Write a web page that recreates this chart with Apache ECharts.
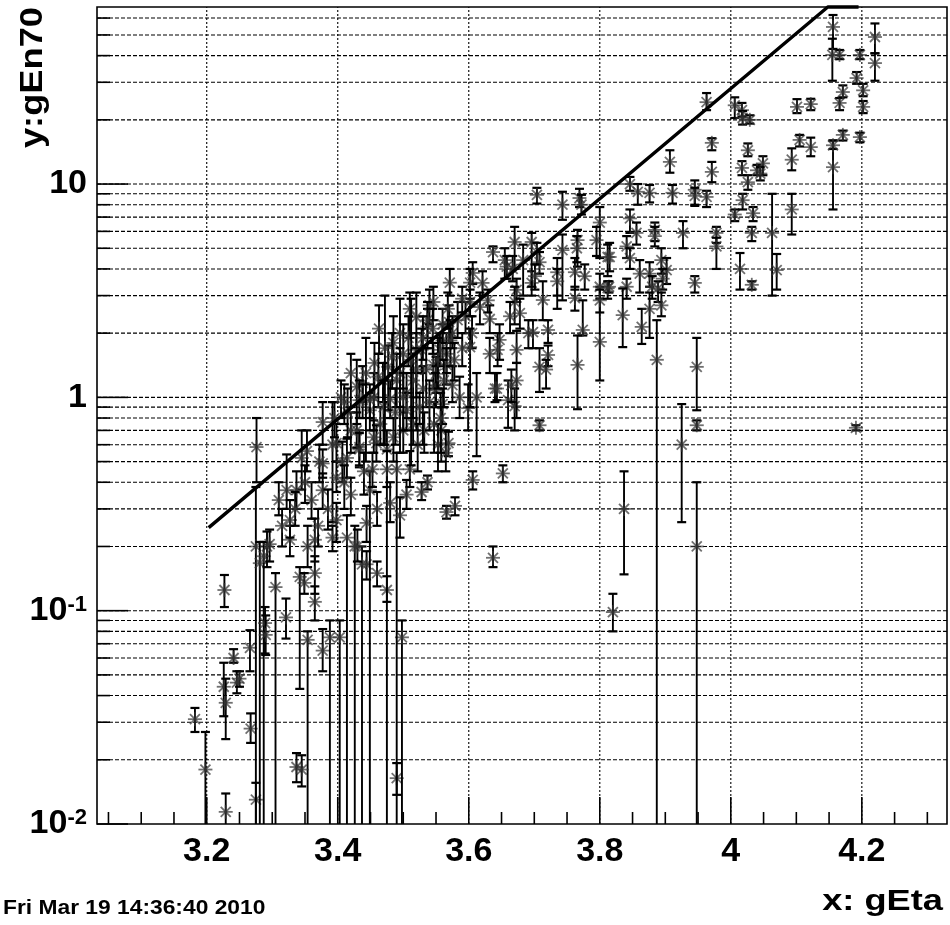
<!DOCTYPE html>
<html><head><meta charset="utf-8">
<script src="https://cdn.jsdelivr.net/npm/echarts@6/dist/echarts.min.js"></script>
<style>html,body{margin:0;padding:0;background:#fff}#c{width:950px;height:925px}</style>
</head><body><div id="c"></div>
<script>
const X_MIN = 3.0325, X_MAX = 4.33, Y_MIN = 0.01, Y_MAX = 67.6;
const xTickLabels = [3.2, 3.4, 3.6, 3.8, 4, 4.2];
const xMinorTicks = [3.05,3.1,3.15,3.25,3.3,3.35,3.45,3.5,3.55,3.65,3.7,3.75,3.85,3.9,3.95,4.05,4.1,4.15,4.25,4.3];
const yMajorTicks = [0.01, 0.1, 1, 10];
const yMinorTicks = [0.02,0.03,0.04,0.05,0.06,0.07,0.08,0.09,0.2,0.3,0.4,0.5,0.6,0.7,0.8,0.9,2,3,4,5,6,7,8,9,20,30,40,50,60];
const cutLine = [[3.203, 0.245], [4.148, 67.6], [4.195, 67.6]];

// points: [gEta, gEn70, lower error end, upper error end]
const lowLeft = [
[3.182,0.031,0.027,0.035],[3.198,0.018,0.01,0.027],[3.227,0.125,0.104,0.147],[3.241,0.06,0.057,0.066],
[3.246,0.046,0.041,0.052],[3.25,0.048,0.044,0.052],[3.226,0.044,0.032,0.057],[3.229,0.037,0.025,0.048],
[3.229,0.0114,0.01,0.0139],[3.266,0.067,0.052,0.081],[3.267,0.028,0.024,0.033],[3.275,0.013,0.01,0.0156],
[3.276,0.585,0.4,0.8],[3.275,0.2,0.01,0.38],[3.281,0.167,0.01,0.21],[3.292,0.2,0.16,0.235],
[3.287,0.18,0.01,0.21],[3.296,0.205,0.17,0.24],[3.289,0.0875,0.063,0.104],[3.29,0.077,0.062,0.095],
[3.305,0.129,0.01,0.15],[3.321,0.093,0.074,0.114]
];
const lowMid = [
[3.342,0.144,0.043,0.16],[3.349,0.135,0.12,0.15],[3.354,0.073,0.01,0.08],[3.337,0.0185,0.0157,0.0215],
[3.345,0.018,0.015,0.021],[3.365,0.15,0.12,0.18],[3.365,0.11,0.09,0.13],[3.377,0.065,0.052,0.082],
[3.388,0.075,0.01,0.09],[3.403,0.075,0.01,0.09],[3.49,0.0164,0.0137,0.0193],[3.498,0.075,0.01,0.09],
[3.414,0.22,0.01,0.28],[3.426,0.2,0.01,0.25],[3.437,0.165,0.01,0.2],[3.43,0.2,0.17,0.24],
[3.444,0.165,0.14,0.19],[3.46,0.15,0.13,0.17],[3.475,0.125,0.11,0.145],[3.392,0.22,0.19,0.25],
[3.354,0.2,0.16,0.25],[3.365,0.215,0.17,0.27],[3.327,0.215,0.18,0.25]
];
const band = [
[3.322,0.367,0.3,0.54],[3.327,0.266,0.22,0.33],[3.345,0.52,0.37,0.7],[3.337,0.367,0.3,0.45],
[3.377,0.49,0.42,0.57],[3.377,0.367,0.3,0.44],[3.392,0.6,0.26,0.95],[3.398,0.42,0.36,0.5],
[3.398,0.266,0.21,0.32],[3.414,0.52,0.42,0.64],[3.433,0.585,0.48,0.7],[3.449,0.367,0.01,0.45],
[3.444,0.258,0.21,0.31],[3.459,0.61,0.5,0.74],[3.377,0.766,0.6,0.95],[3.398,0.61,0.5,0.75],
[3.407,0.5,0.4,0.62],[3.372,0.5,0.4,0.6],[3.353,0.56,0.45,0.7],[3.475,0.57,0.01,0.7],
[3.455,0.65,0.55,0.78],[3.429,0.7,0.58,0.85],[3.433,0.57,0.47,0.68],[3.453,0.46,0.38,0.55],
[3.475,0.46,0.38,0.56],[3.49,0.46,0.01,0.55],[3.51,0.46,0.38,0.56],[3.537,0.4,0.37,0.43],
[3.528,0.36,0.33,0.4],[3.566,0.29,0.27,0.31],[3.579,0.31,0.28,0.34],[3.606,0.41,0.37,0.45],
[3.652,0.44,0.4,0.48],[3.637,0.177,0.16,0.2],[3.569,0.61,0.53,0.69],[3.708,0.74,0.7,0.78],
[3.558,0.7,0.5,0.9],[3.565,0.55,0.45,0.7],[3.553,0.6,0.45,0.75],[3.547,0.75,0.55,0.95],
[3.532,0.7,0.55,0.85],[3.522,0.6,0.45,0.75],[3.515,0.75,0.6,0.9],[3.5,0.7,0.55,0.85],
[3.485,0.65,0.5,0.8],[3.465,0.75,0.6,0.9],[3.44,0.45,0.35,0.55],[3.42,0.35,0.28,0.42],
[3.41,0.4,0.3,0.48],[3.385,0.3,0.24,0.37],[3.37,0.25,0.2,0.3],[3.36,0.33,0.27,0.4],
[3.35,0.4,0.32,0.48],[3.335,0.3,0.25,0.36],[3.315,0.25,0.2,0.3],[3.31,0.33,0.28,0.4],
[3.46,0.3,0.25,0.36],[3.48,0.32,0.26,0.4],[3.495,0.28,0.22,0.34],[3.505,0.35,0.3,0.41],
[3.42,0.7,0.55,0.85],[3.395,0.8,0.65,0.95]
];
const cluster = [
[3.438,1.17,0.95,1.4],[3.438,0.97,0.8,1.15],[3.449,0.87,0.7,1.05],[3.429,1.12,0.75,1.5],
[3.433,0.97,0.8,1.2],[3.456,1.45,1.0,1.8],[3.477,1.39,0.87,1.75],[3.48,0.98,0.8,1.2],
[3.469,1.2,0.95,1.45],[3.52,2.38,0.7,3.1],[3.52,1.67,1.3,2.0],[3.52,1.35,1.0,1.7],
[3.537,2.15,1.7,2.6],[3.54,2.7,2.2,3.2],[3.546,1.42,1.1,1.8],[3.55,1.14,0.9,1.4],
[3.56,1.85,1.5,2.2],[3.566,1.6,1.3,2.0],[3.57,2.25,1.8,2.7],[3.56,0.93,0.75,1.1],
[3.505,1.05,0.8,1.3],[3.505,0.87,0.7,1.05],[3.449,0.97,0.8,1.15],[3.571,3.45,3.0,4.0],
[3.495,2.0,0.55,2.9],[3.5,1.6,1.1,2.2],[3.546,2.8,2.3,3.3],[3.537,2.3,1.9,2.8],
[3.56,2.2,1.8,2.6],[3.556,1.67,1.4,2.0],[3.575,2.0,1.7,2.4],[3.566,1.42,1.15,1.7],
[3.55,1.29,1.05,1.55],[3.575,1.14,0.95,1.4],[3.528,1.67,1.3,2.1],[3.53,1.1,0.6,1.4],
[3.549,1.08,0.9,1.3],[3.525,0.9,0.75,1.05],[3.599,0.89,0.7,1.15],[3.612,1.0,0.53,1.3],
[3.485,1.8,1.3,2.4],[3.51,2.6,1.9,3.1],[3.49,1.2,0.9,1.6],[3.415,0.85,0.65,1.1],[3.42,1.3,0.9,1.6],
[3.455,1.0,0.7,1.3],[3.462,1.25,0.9,1.6],[3.47,0.9,0.6,1.2],[3.483,1.55,1.1,2.0],
[3.488,0.85,0.6,1.1],[3.495,1.3,0.9,1.7],[3.5,1.0,0.7,1.3],[3.508,1.9,1.4,2.4],
[3.515,1.2,0.8,1.6],[3.53,1.9,1.5,2.4],[3.535,1.35,0.9,1.7],[3.54,0.95,0.7,1.2],
[3.545,2.1,1.6,2.6],[3.553,1.5,1.1,1.9],[3.557,0.8,0.55,1.05],[3.562,1.2,0.9,1.5],
[3.568,2.6,2.1,3.1],[3.572,1.85,1.4,2.3],[3.578,1.5,1.2,1.8],[3.583,2.3,1.9,2.8],
[3.586,1.0,0.8,1.25],[3.59,1.7,1.4,2.0],[3.595,2.4,2.0,2.8],[3.59,2.9,2.5,3.3],
[3.405,1.0,0.8,1.2],[3.41,0.95,0.75,1.15],
[3.472,1.7,0.6,3.0],[3.512,1.5,0.48,2.9],[3.443,1.3,0.5,1.9],[3.463,2.1,1.6,2.7]
];
const mid = [
[3.643,1.1,0.97,1.3],[3.66,0.97,0.72,1.2],[3.67,0.91,0.7,1.1],[3.704,8.9,8.1,9.6],
[3.743,8.0,6.8,9.2],[3.769,8.6,7.8,9.5],[3.772,8.0,7.2,8.9],[3.8,6.6,4.5,7.8],
[3.795,5.46,4.6,6.3],[3.815,4.55,3.9,5.3],[3.814,3.3,3.1,3.5],[3.766,5.46,4.1,6.1],
[3.765,5.0,4.3,5.7],[3.762,3.86,3.2,4.5],[3.777,3.7,3.2,4.2],[3.743,4.9,2.85,5.8],
[3.735,3.86,2.6,4.5],[3.735,3.5,3.0,4.0],[3.762,2.92,2.55,3.3],[3.774,2.07,1.95,2.85],
[3.766,1.42,0.88,1.95],[3.8,1.82,1.2,3.3],[3.8,3.3,2.9,3.8],[3.8,2.85,2.5,3.2],
[3.721,2.07,1.8,2.3],[3.721,1.58,1.4,1.75],[3.708,1.39,1.06,1.7],[3.718,1.35,1.1,1.5],
[3.698,2.02,1.7,2.3],[3.696,3.44,3.0,3.9],[3.713,2.86,2.3,3.5],[3.696,5.35,3.3,5.9],
[3.704,4.8,4.2,5.3],[3.708,4.3,3.8,4.8],[3.701,3.7,3.2,4.2],[3.683,4.4,3.0,5.2],
[3.67,5.35,4.0,6.3],[3.667,4.0,3.5,4.6],[3.655,4.4,3.6,5.0],[3.658,4.1,3.6,4.6],
[3.637,4.8,4.3,5.1],[3.673,3.19,2.8,3.6],[3.67,2.8,2.2,3.3],[3.673,1.67,1.45,2.05],
[3.673,1.2,0.8,1.45],[3.691,2.0,1.7,2.3],[3.678,2.48,2.1,2.9],[3.663,2.4,2.0,2.8],
[3.647,1.86,1.5,2.2],[3.644,1.67,1.4,2.0],[3.632,2.33,2.0,2.7],[3.629,2.85,2.5,3.2],
[3.621,3.44,3.0,3.9],[3.617,2.65,2.2,3.1],[3.606,3.83,3.4,4.3],[3.602,3.45,2.9,4.0],
[3.602,2.8,2.4,3.2],[3.605,2.0,1.7,2.4],[3.602,1.72,0.9,2.1],[3.632,1.6,1.3,1.9],
[3.64,1.1,0.95,1.3],[3.665,1.14,0.95,1.35]
];
const upperRight = [
[3.846,10.0,9.3,10.8],[3.858,9.2,8.0,10.0],[3.876,9.1,8.2,9.9],[3.911,9.1,8.1,9.9],
[3.945,9.4,8.0,10.4],[3.945,8.8,7.9,9.6],[3.963,8.7,7.8,9.3],[3.907,12.7,11.3,14.4],
[3.963,24.2,22.2,26.7],[3.971,15.6,14.4,16.4],[3.971,11.4,10.2,12.7],[4.006,23.4,20.4,25.5],
[4.017,22.2,20.7,24],[4.018,20.4,19,22],[4.029,20,19.2,21],[4.026,14.4,13.5,15.5],
[4.017,11.9,11,12.8],[4.026,10.2,9.4,11],[4.04,11.6,11,12.3],[4.049,12.5,11,13.5],
[4.045,11.2,10.4,12],[4.093,13,11.6,14.7],[4.105,16.1,15,17],[4.122,14.9,13.5,16.5],
[4.101,23,21.5,25],[4.122,23.7,22.2,25.1],[4.156,12,7.6,16],[4.156,15.2,14.6,16],
[4.171,17,16,17.8],[4.197,16.6,15.7,17.4],[4.166,24,22.2,25.3],[4.171,27,25.5,29],
[4.192,31.4,29.5,33.5],[4.202,27.5,25.8,29.5],[4.202,23,21.5,24.5],[4.156,54.5,43,62],
[4.155,40.3,30.5,48],[4.166,40.3,38.5,42.5],[4.197,40.3,38.5,42.5],[4.22,48.9,41,56.6],
[4.22,36.9,30.5,41],
[4.006,7.2,6.7,7.6],[4.018,8.4,7.6,9.0],[4.034,7.3,6.7,7.8],[4.032,5.9,5.4,6.3],
[4.063,5.9,3.0,9.0],[4.07,3.95,3.2,4.7],[4.093,7.6,5.8,9.0],[4.014,4.0,3.2,4.75],
[4.032,3.37,3.2,3.5],[3.978,5.9,5.3,6.3],[3.978,5.1,4.0,5.6],[3.927,5.9,5.0,6.7],
[3.945,3.44,3.1,3.7],[3.884,6.1,5.4,6.6],[3.884,5.7,5.1,6.3],[3.894,4.4,3.8,5.0],
[3.902,3.95,3.4,4.5],[3.896,3.6,3.2,4.0],[3.846,6.9,5.9,7.6],[3.856,5.9,5.2,6.6],
[3.841,5.1,4.5,5.7],[3.846,4.5,4.0,5.0],[3.812,4.55,3.7,5.2],[3.861,3.8,3.1,4.4],
[3.876,3.8,3.3,4.3],[3.88,3.3,2.9,3.7],[3.812,3.25,2.9,3.5],[3.841,3.3,2.9,3.6]
];
const lowerRight = [
[3.835,2.43,1.72,3.24],[3.864,2.14,1.78,2.6],[3.876,2.6,1.9,3.1],[3.889,3.24,2.8,3.5],
[3.894,2.7,2.4,3.1],[3.887,1.5,0.01,2.3],[3.948,1.39,0.87,1.9],[3.948,0.74,0.7,0.78],
[3.925,0.6,0.26,0.93],[3.837,0.3,0.148,0.45],[3.948,0.2,0.01,0.4],[4.191,0.72,0.7,0.74],
[3.82,0.0985,0.08,0.12]
];

const FONT = '"Liberation Sans", Arial, Helvetica, sans-serif';
const allPoints = [].concat(lowLeft, lowMid, band, cluster, mid, upperRight, lowerRight);

function renderPoint(params, api) {
  const x = api.value(0), y = api.value(1), lo = api.value(2), hi = api.value(3);
  const p = api.coord([x, y]);
  const top = api.coord([x, Math.min(hi, Y_MAX)]);
  const bot = api.coord([x, Math.max(lo, Y_MIN)]);
  const ch = [];
  ch.push({type: 'line', shape: {x1: p[0], y1: top[1], x2: p[0], y2: bot[1]}, style: {stroke: '#000', lineWidth: 1.9}});
  if (hi < Y_MAX) ch.push({type: 'line', shape: {x1: p[0]-4.5, y1: top[1], x2: p[0]+4.5, y2: top[1]}, style: {stroke:'#000', lineWidth: 2.2}});
  if (lo > Y_MIN) ch.push({type: 'line', shape: {x1: p[0]-4.5, y1: bot[1], x2: p[0]+4.5, y2: bot[1]}, style: {stroke:'#000', lineWidth: 2.2}});
  const r = 7, d = 5;
  const st = {stroke: 'rgba(50,50,50,0.7)', lineWidth: 1.8};
  ch.push({type: 'line', shape: {x1: p[0], y1: p[1]-r, x2: p[0], y2: p[1]+r}, style: st});
  ch.push({type: 'line', shape: {x1: p[0]-r, y1: p[1], x2: p[0]+r, y2: p[1]}, style: st});
  ch.push({type: 'line', shape: {x1: p[0]-d, y1: p[1]-d, x2: p[0]+d, y2: p[1]+d}, style: st});
  ch.push({type: 'line', shape: {x1: p[0]-d, y1: p[1]+d, x2: p[0]+d, y2: p[1]-d}, style: st});
  return {type: 'group', children: ch};
}

const hGridData = yMinorTicks.concat([0.1, 1, 10]).map(v => [X_MIN, v]);
const vGridData = xTickLabels.map(v => [v, Y_MIN]);
const yTickData = yMajorTicks.map(v => [X_MIN, v, 31]).concat(yMinorTicks.map(v => [X_MIN, v, 13]));
const xTickData = xTickLabels.map(v => [v, Y_MIN, 27]).concat(xMinorTicks.map(v => [v, Y_MIN, 12]));

const chart = echarts.init(document.getElementById('c'), null, {renderer: 'canvas'});
chart.setOption({
  animation: false,
  backgroundColor: '#fff',
  grid: {left: 97, top: 7, width: 850, height: 817, show: true, borderColor: '#000', borderWidth: 1.6, backgroundColor: 'transparent'},
  xAxis: {
    type: 'value', min: X_MIN, max: X_MAX,
    axisLine: {show: false}, axisTick: {show: false}, splitLine: {show: false},
    axisLabel: {customValues: xTickLabels, margin: 11, color: '#000', fontSize: 34, fontWeight: 'bold', fontFamily: FONT,
      formatter: v => String(Math.round(v * 10) / 10)}
  },
  yAxis: {
    type: 'log', logBase: 10, min: Y_MIN, max: Y_MAX,
    axisLine: {show: false}, axisTick: {show: false}, splitLine: {show: false}, minorTick: {show: false},
    axisLabel: {
      showMaxLabel: false, margin: 10, color: '#000',
      formatter: v => {
        const e = Math.round(Math.log10(v));
        if (e === 0) return '{b|1}';
        if (e === 1) return '{b|10}';
        return '{b|10}{s|' + e + '}';
      },
      rich: {
        b: {fontSize: 34, fontWeight: 'bold', fontFamily: FONT, color: '#000'},
        s: {fontSize: 22, fontWeight: 'bold', fontFamily: FONT, color: '#000', verticalAlign: 'top'}
      }
    }
  },
  series: [
    {type: 'custom', name: 'hgrid', silent: true, z: 1, data: hGridData,
      renderItem: (p, api) => {
        const v = api.value(1);
        const a = api.coord([X_MIN, v]), b = api.coord([X_MAX, v]);
        return {type: 'line', shape: {x1: a[0], y1: a[1], x2: b[0], y2: b[1]}, style: {stroke: '#000', lineWidth: 1.1, lineDash: [4, 2]}};
      }},
    {type: 'custom', name: 'vgrid', silent: true, z: 1, data: vGridData,
      renderItem: (p, api) => {
        const v = api.value(0);
        const a = api.coord([v, Y_MIN]), b = api.coord([v, Y_MAX]);
        return {type: 'line', shape: {x1: a[0], y1: a[1], x2: b[0], y2: b[1]}, style: {stroke: '#000', lineWidth: 1.1, lineDash: [2, 2]}};
      }},
    {type: 'custom', name: 'yticks', silent: true, z: 2, data: yTickData,
      renderItem: (p, api) => {
        const a = api.coord([X_MIN, api.value(1)]);
        return {type: 'line', shape: {x1: a[0], y1: a[1], x2: a[0] + api.value(2), y2: a[1]}, style: {stroke: '#000', lineWidth: 1.6}};
      }},
    {type: 'custom', name: 'xticks', silent: true, z: 2, data: xTickData,
      renderItem: (p, api) => {
        const a = api.coord([api.value(0), Y_MIN]);
        return {type: 'line', shape: {x1: a[0], y1: a[1], x2: a[0], y2: a[1] - api.value(2)}, style: {stroke: '#000', lineWidth: 1.6}};
      }},
    {type: 'custom', name: 'gEn70', z: 3, data: allPoints, encode: {x: 0, y: 1}, renderItem: renderPoint},
    {type: 'line', name: 'cut', z: 4, data: cutLine, showSymbol: false, symbol: 'none',
      lineStyle: {color: '#000', width: 3.4}, clip: false}
  ],
  graphic: [
    {type: 'text', x: 33, y: 7, rotation: Math.PI / 2, scaleX: 1.17,
      style: {text: 'y:gEn70', font: 'bold 31px ' + FONT, fill: '#000', align: 'right', verticalAlign: 'middle'}},
    {type: 'text', x: 943, y: 902, scaleX: 1.25,
      style: {text: 'x: gEta', font: 'bold 29px ' + FONT, fill: '#000', align: 'right', verticalAlign: 'middle'}},
    {type: 'text', x: 3, y: 908, scaleX: 1.14,
      style: {text: 'Fri Mar 19 14:36:40 2010', font: 'bold 20px ' + FONT, fill: '#000', align: 'left', verticalAlign: 'middle'}}
  ]
});
</script></body></html>
